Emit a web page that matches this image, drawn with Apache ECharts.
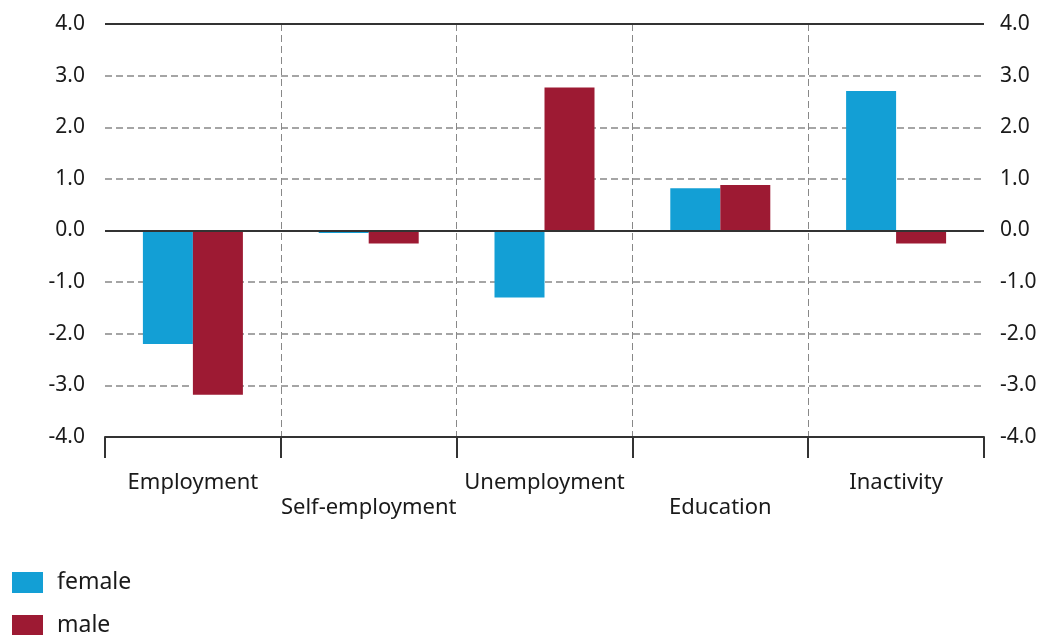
<!DOCTYPE html>
<html>
<head>
<meta charset="utf-8">
<script src="https://cdn.jsdelivr.net/npm/echarts@6/dist/echarts.min.js"></script>
<style>
html,body{margin:0;padding:0;background:#fff;}
#c{width:1048px;height:635px;}
</style>
</head>
<body>
<div id="c"></div>
<script>
const categories = ['Employment', 'Self-employment', 'Unemployment', 'Education', 'Inactivity'];
const female = [-2.2, -0.05, -1.3, 0.82, 2.7];
const male = [-3.18, -0.25, 2.77, 0.88, -0.25];
const seriesNames = ['female', 'male'];
const colors = ['#139fd5', '#9d1a33'];

const FONT = 'Noto Sans';
const chart = echarts.init(document.getElementById('c'));
const yAxisCommon = {
  type: 'value', min: -4, max: 4, interval: 1,
  axisLine: { show: false }, axisTick: { show: false },
  axisLabel: { formatter: v => v.toFixed(1), fontFamily: FONT, fontSize: 21, color: '#1a1a1a' },
  splitLine: { show: true, lineStyle: { color: '#888', width: 1.5, type: [7, 4] } }
};
chart.setOption({
  animation: false,
  grid: { left: 105, right: 64, top: 24, bottom: 198 },
  legend: {
    orient: 'vertical', left: 12, top: 571, height: 120, padding: 0,
    itemWidth: 31, itemHeight: 21, itemGap: 20,
    icon: 'rect',
    textStyle: { fontFamily: FONT, fontSize: 23, lineHeight: 21, color: '#1a1a1a', padding: [0, 0, 0, 9] },
    data: seriesNames
  },
  xAxis: {
    type: 'category', data: categories,
    axisLine: { onZero: false, lineStyle: { color: '#333', width: 2 } },
    axisTick: { show: true, length: 21, lineStyle: { color: '#333', width: 2 } },
    axisLabel: {
      interval: 0, margin: 33, fontFamily: FONT, fontSize: 22, color: '#1a1a1a', lineHeight: 25,
      formatter: (v, i) => (i % 2 ? '\n' + v : v)
    },
    splitLine: { show: true, showMinLine: false, showMaxLine: false, lineStyle: { color: '#888', width: 1, type: [7, 4] } }
  },
  yAxis: [
    Object.assign({}, yAxisCommon, { position: 'left', axisLabel: Object.assign({}, yAxisCommon.axisLabel, { margin: 20 }) }),
    Object.assign({}, yAxisCommon, { position: 'right', splitLine: { show: false }, axisLabel: Object.assign({}, yAxisCommon.axisLabel, { margin: 16 }) })
  ],
  series: [
    {
      name: seriesNames[0], type: 'bar', data: female, barWidth: 50, barGap: '0%',
      itemStyle: { color: colors[0] },
      markLine: {
        silent: true, symbol: 'none', label: { show: false },
        lineStyle: { color: '#333', width: 2, type: 'solid' },
        data: [{ yAxis: 0 }, { yAxis: 4 }]
      }
    },
    {
      name: seriesNames[1], type: 'bar', data: male, barWidth: 50, barGap: '0%',
      itemStyle: { color: colors[1] }
    }
  ]
});
</script>
</body>
</html>
